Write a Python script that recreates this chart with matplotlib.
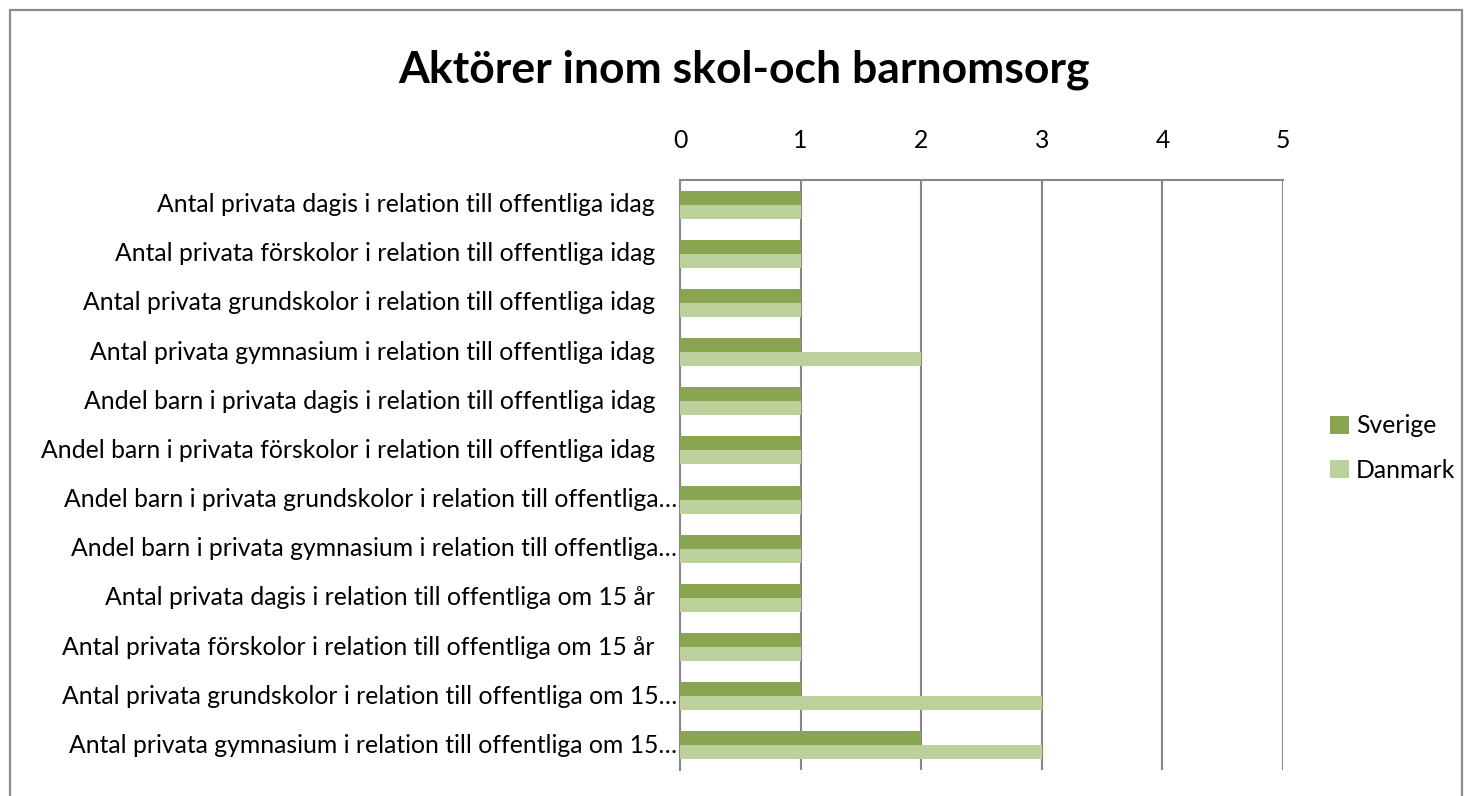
import matplotlib
matplotlib.use("Agg")
import matplotlib.pyplot as plt
import numpy as np
from matplotlib.patches import Rectangle

categories = [
    "Antal privata dagis i relation till offentliga idag",
    "Antal privata förskolor i relation till offentliga idag",
    "Antal privata grundskolor i relation till offentliga idag",
    "Antal privata gymnasium i relation till offentliga idag",
    "Andel barn i privata dagis i relation till offentliga idag",
    "Andel barn i privata förskolor i relation till offentliga idag",
    "Andel barn i privata grundskolor i relation till offentliga…",
    "Andel barn i privata gymnasium i relation till offentliga…",
    "Antal privata dagis i relation till offentliga om 15 år",
    "Antal privata förskolor i relation till offentliga om 15 år",
    "Antal privata grundskolor i relation till offentliga om 15…",
    "Antal privata gymnasium i relation till offentliga om 15…",
]
sverige = [1, 1, 1, 1, 1, 1, 1, 1, 1, 1, 1, 2]
danmark = [1, 1, 1, 2, 1, 1, 1, 1, 1, 1, 3, 3]
xticks = [0, 1, 2, 3, 4, 5]

FONT = ["Lato", "DejaVu Sans"]
plt.rcParams["font.family"] = FONT
FS = 17.8

fig = plt.figure(figsize=(14.7, 7.96), dpi=100)
ax = fig.add_axes([680/1470, 1-770/796, (1283-680)/1470, (770-180)/796])

# outer chart border
fig.patches.append(Rectangle((10/1470, -0.05), (1462-10)/1470, 1.05 - 10/796,
                             transform=fig.transFigure, fill=False,
                             edgecolor="#8c8c8c", linewidth=1.6))

n = len(categories)
y = np.arange(n)
h = 0.285
ax.barh(y - h/2, sverige, height=h, color="#8aa54f", label="Sverige", zorder=3)
ax.barh(y + h/2, danmark, height=h, color="#bbd09a", label="Danmark", zorder=3)

ax.set_ylim(n - 0.5, -0.5)
ax.set_xlim(0, 5)
ax.set_xticks(xticks)
ax.xaxis.tick_top()
ax.tick_params(axis="x", length=0, pad=20, labelsize=FS)
ax.set_yticks([])
ax.grid(axis="x", color="#878787", linewidth=1.5, zorder=1)
for s in ["right", "bottom"]:
    ax.spines[s].set_visible(False)
for s in ["top", "left"]:
    ax.spines[s].set_color("#878787")
    ax.spines[s].set_linewidth(1.5)

for i, lab in enumerate(categories):
    off = -3 if lab.endswith("…") else -25
    ax.annotate(lab, xy=(0, i), xycoords=ax.get_yaxis_transform(),
                xytext=(off, 0), textcoords="offset pixels",
                ha="right", va="center", fontsize=FS)

fig.text(744/1470, 1-70/796, "Aktörer inom skol-och barnomsorg",
         ha="center", va="center", fontsize=32, fontweight="bold")

leg = fig.legend(loc="center left", bbox_to_anchor=(1308/1470, 1-448/796),
                 frameon=False, fontsize=FS, handlelength=0.75, handleheight=0.75,
                 handletextpad=0.3, labelspacing=0.85)

fig.savefig("out.png", dpi=100)
